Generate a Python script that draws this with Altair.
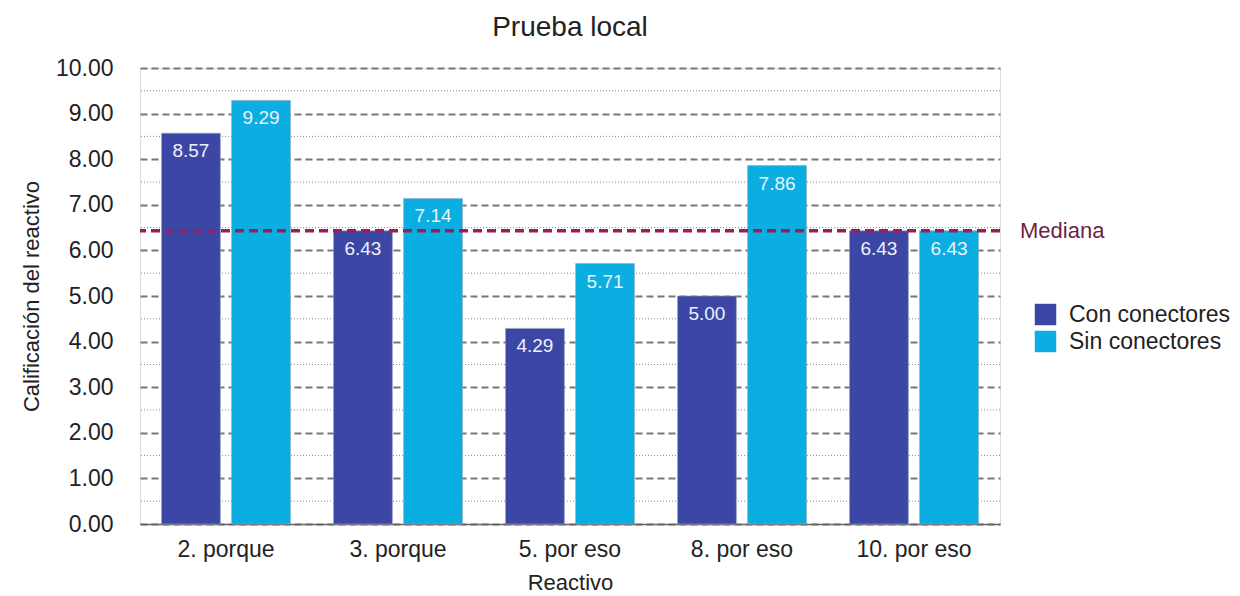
import altair as alt
import pandas as pd

categories = ["2. porque", "3. porque", "5. por eso", "8. por eso", "10. por eso"]
con = [8.57, 6.43, 4.29, 5.00, 6.43]
sin = [9.29, 7.14, 5.71, 7.86, 6.43]
series = ["Con conectores", "Sin conectores"]
median_value = 6.43
minor_ticks = [0.5, 1.5, 2.5, 3.5, 4.5, 5.5, 6.5, 7.5, 8.5, 9.5]

rows = []
for c, a, b in zip(categories, con, sin):
    rows.append({"Reactivo": c, "Serie": series[0], "Valor": a})
    rows.append({"Reactivo": c, "Serie": series[1], "Valor": b})
df = pd.DataFrame(rows)

FONT = "Liberation Sans"

x = alt.X("Reactivo:N", sort=categories, title="Reactivo",
          scale=alt.Scale(paddingInner=0.25, paddingOuter=0.125),
          axis=alt.Axis(labelAngle=0, labelFontSize=23, titleFontSize=22,
                        titleFontWeight="normal",
                        labelPadding=14, titlePadding=11, ticks=False,
                        domainColor="#666", domainWidth=1.5,
                        labelColor="#222", titleColor="#222"))
xo = alt.XOffset("Serie:N", sort=series,
                 scale=alt.Scale(paddingInner=0.16, paddingOuter=0))
y = alt.Y("Valor:Q", title="Calificación del reactivo",
          scale=alt.Scale(domain=[0, 10], nice=False),
          axis=alt.Axis(values=list(range(0, 11)), format=".2f",
                        labelFontSize=23, titleFontSize=22, ticks=False,
                        titleFontWeight="normal",
                        domain=False, labelPadding=27, titlePadding=12,
                        grid=True, gridDash=[7, 4], gridColor="#777",
                        gridWidth=2, labelColor="#222", titleColor="#222"))

minor = alt.Chart(pd.DataFrame({"v": minor_ticks})).mark_rule(
    color="#888", strokeDash=[1, 2], strokeWidth=1
).encode(y=alt.Y("v:Q", scale=alt.Scale(domain=[0, 10], nice=False)))

bars = alt.Chart(df).mark_bar(stroke="#9aa6b8", strokeWidth=0.6).encode(
    x=x, xOffset=xo, y=y,
    color=alt.Color("Serie:N", sort=series,
                    scale=alt.Scale(domain=series, range=["#3C46A5", "#0AAEE0"]),
                    legend=alt.Legend(title=None, orient="none", legendX=894,
                                      legendY=235, labelFontSize=23,
                                      labelLimit=400,
                                      symbolType="square", symbolSize=460,
                                      symbolStrokeWidth=0, rowPadding=3,
                                      labelOffset=12,
                                      labelColor="#222", labelFont=FONT))
)

labels = alt.Chart(df).mark_text(
    baseline="top", dy=9, color="#eef2fa", fontSize=19, font=FONT
).encode(x=x, xOffset=xo, y=y, text=alt.Text("Valor:Q", format=".2f"))

median = alt.Chart(pd.DataFrame({"m": [median_value]})).mark_rule(
    color="#9B1D5C", strokeDash=[9, 5], strokeWidth=3.5
).encode(y=alt.Y("m:Q", scale=alt.Scale(domain=[0, 10], nice=False)))

median_label = alt.Chart(pd.DataFrame({"m": [median_value], "t": ["Mediana"]})).mark_text(
    align="left", baseline="middle", color="#6E1F45", fontSize=22, font=FONT
).encode(x=alt.value(880), y=alt.Y("m:Q", scale=alt.Scale(domain=[0, 10], nice=False)),
         text="t:N")

chart = alt.layer(minor, bars, labels, median, median_label).properties(
    width=860, height=456,
    title=alt.Title("Prueba local", fontSize=28, fontWeight="normal",
                    font=FONT, color="#222", offset=15, anchor="middle"),
    autosize=alt.AutoSizeParams(type="none"),
    padding={"left": 140, "top": 68, "right": 240, "bottom": 72},
).configure_view(stroke=None).configure(font=FONT)

chart.save("out.html", embed_options={"renderer": "svg", "actions": False})
